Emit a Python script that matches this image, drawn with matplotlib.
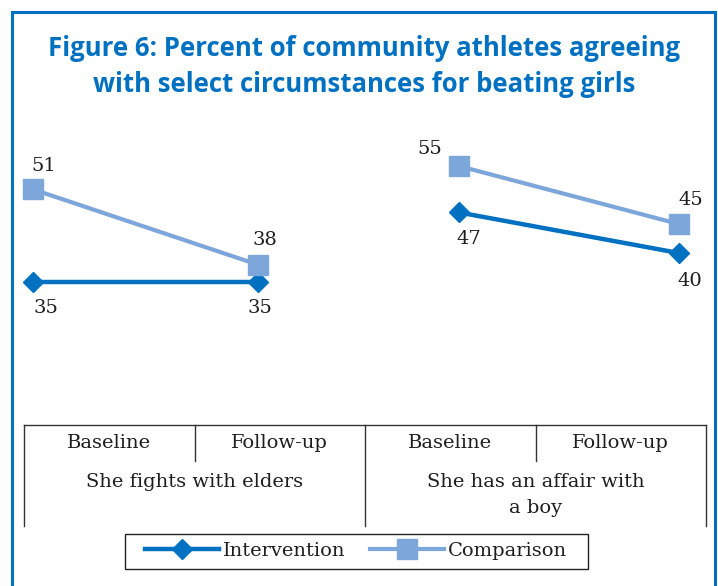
import numpy as np
import matplotlib
matplotlib.use("Agg")
from matplotlib import pyplot as plt
from matplotlib.patches import Rectangle
from matplotlib.transforms import blended_transform_factory

# Figure 6 data: percent of community athletes agreeing
periods = ["Baseline", "Follow-up", "Baseline", "Follow-up"]
groups = ["She fights with elders", "She has an affair with\na boy"]
intervention = [35, 35, 47, 40]
comparison = [51, 38, 55, 45]
# where the original chart put its points along the category axis
point_pos = [0.05, 1.37, 2.55, 3.84]

blue = "#0070C0"
light_blue = "#7DA6DA"
serif = "DejaVu Serif"
txt = "#1e1e1e"

W, H = 718, 586
fig = plt.figure(figsize=(W / 100, H / 100), dpi=100)
ax = fig.add_axes([24 / W, 1 - 427 / H, (706 - 24) / W, (427 - 137) / H])

# outer blue frame (bottom edge runs off the page)
fig.patches.append(Rectangle((12 / W, -0.05), (715 - 12) / W, 1 - 12 / H + 0.05,
                             transform=fig.transFigure, fill=False,
                             edgecolor=blue, linewidth=2.2))

fig.text(364 / W, 1 - 48 / H, "Figure 6: Percent of community athletes agreeing",
         ha="center", va="center", fontsize=18.5, fontweight="bold",
         color=blue, family="Open Sans")
fig.text(364 / W, 1 - 84 / H, "with select circumstances for beating girls",
         ha="center", va="center", fontsize=18.5, fontweight="bold",
         color=blue, family="Open Sans")

# each question is its own two-point line
for g in range(2):
    sl = slice(2 * g, 2 * g + 2)
    ax.plot(point_pos[sl], intervention[sl], color=blue, lw=3.2, marker="D",
            ms=10, label="Intervention" if g == 0 else None, clip_on=False)
    ax.plot(point_pos[sl], comparison[sl], color=light_blue, lw=3.0, marker="s",
            ms=14, label="Comparison" if g == 0 else None, clip_on=False)

# data labels (offsets in points)
int_off = [(10, -19), (2, -19), (7, -19), (8, -20)]
comp_off = [(8, 17), (5, 18), (-21, 12), (9, 17)]
for i in range(4):
    ax.annotate(str(intervention[i]), (point_pos[i], intervention[i]),
                xytext=int_off[i], textcoords="offset points",
                ha="center", va="center", fontsize=14, family=serif, color=txt)
    ax.annotate(str(comparison[i]), (point_pos[i], comparison[i]),
                xytext=comp_off[i], textcoords="offset points",
                ha="center", va="center", fontsize=14, family=serif, color=txt)

ax.set_xlim(0, 4)
ax.set_ylim(10, 60)
ax.axis("off")

# category table under the plot
tr = blended_transform_factory(ax.transData, fig.transFigure)
lc = "#333333"
top = 1 - 425 / H
ax.plot([0, 4], [top, top], color=lc, lw=1, transform=tr, clip_on=False)
for x in [0, 2, 4]:
    ax.plot([x, x], [top, 1 - 526 / H], color=lc, lw=1, transform=tr, clip_on=False)
for x in [1, 3]:
    ax.plot([x, x], [top, 1 - 461 / H], color=lc, lw=1, transform=tr, clip_on=False)
for i, p in enumerate(periods):
    ax.text(i + 0.5, 1 - 443 / H, p, transform=tr, ha="center", va="center",
            fontsize=14, family=serif, color=txt)
for g, name in enumerate(groups):
    ax.text(2 * g + 1, 1 - 473 / H, name, transform=tr, ha="center", va="top",
            fontsize=14, family=serif, color=txt, linespacing=1.55)

leg = fig.legend(loc="center", bbox_to_anchor=(356 / W, 1 - 551 / H), ncol=2,
                 frameon=False, handlelength=3.8, handletextpad=0.2,
                 columnspacing=1.3, borderpad=0.3, borderaxespad=0,
                 prop={"family": serif, "size": 14})
for t in leg.get_texts():
    t.set_color(txt)
# legend frame drawn by hand: the original has wide side padding
fig.patches.append(Rectangle((125 / W, 1 - 569 / H), (588 - 125) / W, 35 / H,
                             transform=fig.transFigure, fill=False,
                             edgecolor="#222222", linewidth=1))

fig.savefig("out.png", dpi=100)
